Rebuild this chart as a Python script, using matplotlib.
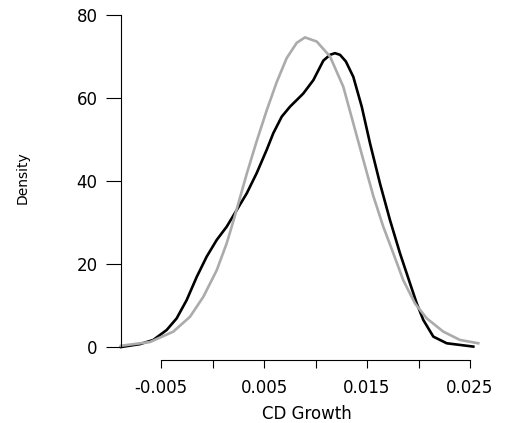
import matplotlib
matplotlib.use("Agg")
import matplotlib.pyplot as plt

# kernel density of CD growth (black)
kde_x = [-0.00888, -0.00704, -0.00575, -0.00445, -0.00348, -0.00251, -0.00153,
         -0.00056, 0.00041, 0.00138, 0.00235, 0.00332, 0.00429, 0.00526,
         0.0059, 0.00672, 0.00752, 0.0085, 0.00882, 0.00979, 0.01012, 0.01076,
         0.01141, 0.01189, 0.01238, 0.01295, 0.01367, 0.01449, 0.01529,
         0.01626, 0.01723, 0.0182, 0.01918, 0.01983, 0.02047, 0.02144,
         0.02274, 0.02532]
kde_y = [0.0, 0.7, 1.7, 4.1, 6.9, 11.3, 16.9,
         21.8, 25.8, 29.0, 33.0, 37.0, 41.9, 47.5,
         51.5, 55.5, 57.9, 60.3, 61.1, 64.3, 65.9, 69.0,
         70.4, 70.8, 70.4, 68.8, 65.1, 57.9, 49.1,
         39.4, 30.6, 22.6, 15.3, 10.5, 6.5, 2.5,
         0.9, 0.1]

# normal density (gray)
norm_x = [-0.00888, -0.00607, -0.00381, -0.00218, -0.00089, 0.00041, 0.00138,
          0.00202, 0.00267, 0.00332, 0.00429, 0.00526, 0.00623, 0.0072,
          0.00818, 0.00898, 0.01012, 0.01141, 0.0127, 0.01367, 0.01464,
          0.01561, 0.01658, 0.01755, 0.01852, 0.01966, 0.0208, 0.02241,
          0.02403, 0.0258]
norm_y = [0.3, 1.2, 3.7, 7.3, 12.1, 18.5, 25.0,
          30.3, 36.0, 41.7, 49.6, 57.0, 63.8, 69.6,
          73.3, 74.6, 73.6, 70.0, 62.7, 53.9, 45.1,
          36.4, 29.0, 22.6, 16.1, 10.5, 6.9, 3.7,
          1.7, 0.9]

x_ticks = [-0.005, 0.0, 0.005, 0.01, 0.015, 0.02, 0.025]
x_tick_labels = ["-0.005", "", "0.005", "", "0.015", "", "0.025"]
y_ticks = [0, 20, 40, 60, 80]

plt.rcParams['font.family'] = ['DejaVu Sans']

fig = plt.figure(figsize=(5.05, 4.23), dpi=100)
W, H = 505, 423
# axes box in pixels: left 115, right 485, top 10, bottom 360
ax = fig.add_axes([115 / W, (H - 360) / H, 370 / W, 350 / H])

ax.plot(kde_x, kde_y, color='black', lw=1.9, solid_joinstyle='round')
ax.plot(norm_x, norm_y, color='#ababab', lw=1.9, solid_joinstyle='round')

ax.set_xlim(-0.009466, 0.026456)
ax.set_ylim(-3.13, 81.2)

for s in ['top', 'right']:
    ax.spines[s].set_visible(False)
ax.spines['left'].set_position(('data', -0.00888))
ax.spines['left'].set_bounds(0, 80)
ax.spines['bottom'].set_bounds(-0.005, 0.025)
ax.spines['left'].set_linewidth(0.8)
ax.spines['bottom'].set_linewidth(0.8)

ax.set_xticks(x_ticks)
ax.set_xticklabels(x_tick_labels)
ax.set_yticks(y_ticks)
ax.tick_params(axis='x', length=5.5, width=0.8, pad=8, labelsize=12)
ax.tick_params(axis='y', length=11, width=0.8, pad=6, labelsize=12)

ax.set_xlabel('CD Growth', fontsize=12, va='center')
ax.xaxis.set_label_coords(0.519, -0.155)
ax.set_ylabel('Density', fontsize=10, va='center', ha='center')
ax.yaxis.set_label_coords(-0.251, 0.52)

fig.savefig('out.png', dpi=100)
